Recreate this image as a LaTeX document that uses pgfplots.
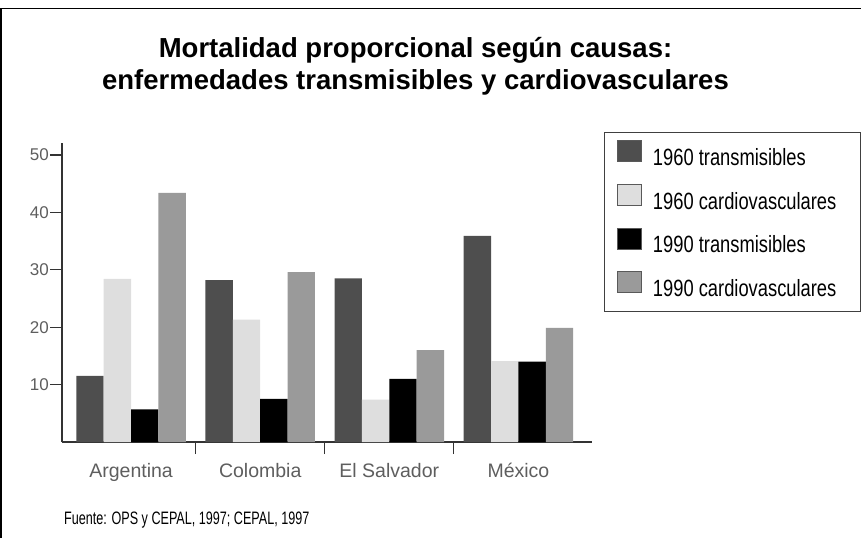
\documentclass[border=0pt]{standalone}
\usepackage{fontspec}
\setmainfont{Liberation Sans}
\newfontfamily\condfont[FakeStretch=0.78]{Liberation Sans}
\newfontfamily\footfont[FakeStretch=0.70]{Liberation Sans}
\usepackage{pgfplots}
\pgfplotsset{compat=1.18}
\definecolor{cA}{HTML}{4E4E4E}
\definecolor{cB}{HTML}{DEDEDE}
\definecolor{cC}{HTML}{000000}
\definecolor{cD}{HTML}{9A9A9A}
\definecolor{tickgray}{HTML}{5E5E5E}
\begin{document}
\begin{tikzpicture}[x=1pt,y=1pt]
\path[use as bounding box] (0,0) rectangle (861,538);
\draw[line width=1.5pt] (0.75,0) -- (0.75,529.25) -- (861,529.25);
\node[font=\bfseries\fontsize{27.5}{27.5}\selectfont, anchor=base] at (415.5,480) {Mortalidad proporcional según causas:};
\node[font=\bfseries\fontsize{27.5}{27.5}\selectfont, anchor=base] at (415.5,448) {enfermedades transmisibles y cardiovasculares};
\node[anchor=base west, font=\footfont\fontsize{18}{18}\selectfont, inner sep=0pt] at (64,14) {Fuente: OPS y CEPAL, 1997; CEPAL, 1997};
\begin{axis}[
  at={(62pt,96pt)}, anchor=south west,
  scale only axis, width=530pt, height=298.5pt,
  xmin=-0.535, xmax=3.57, ymin=0, ymax=52,
  axis lines*=left,
  axis line style={draw=black!80, line width=1.6pt},
  ybar, bar width=0.212,
  ytick={10,20,30,40,50},
  tick align=outside,
  major tick length=12pt,
  minor tick length=12pt,
  tick style={draw=black!80, line width=1.2pt},
  /pgf/number format/assume math mode=true,
  yticklabel style={font=\fontsize{17}{17}\selectfont, text=tickgray, inner sep=1pt},
  xtick={0,1,2,3},
  xticklabels={Argentina,Colombia,El Salvador,México},
  minor xtick={0.5,1.5,2.5},
  major x tick style={draw=none},
  xticklabel style={font=\fontsize{19.5}{19.5}\selectfont, text=tickgray, yshift=-6pt},
  legend style={at={(1.0226,1.0385)}, anchor=north west, draw=black!75, line width=0.8pt,
    inner xsep=13pt, inner ysep=8pt, row sep=11.3pt,
    font=\condfont\fontsize{23.5}{23.5}\selectfont,
    nodes={inner sep=2pt, text height=17pt, text depth=5pt},
    /tikz/every odd column/.append style={column sep=9pt}},
  legend cell align=left,
  legend image code/.code={\draw[#1, draw=black!65, line width=0.6pt] (0pt,-2pt) rectangle (24pt,19pt);},
]
\addplot[fill=cA, draw=none, bar shift=-0.318] coordinates {(0,11.5) (1,28.2) (2,28.5) (3,35.9)};
\addplot[fill=cB, draw=none, bar shift=-0.106] coordinates {(0,28.4) (1,21.3) (2,7.4) (3,14.1)};
\addplot[fill=cC, draw=none, bar shift=0.106] coordinates {(0,5.7) (1,7.5) (2,11.0) (3,14.0)};
\addplot[fill=cD, draw=none, bar shift=0.318] coordinates {(0,43.4) (1,29.6) (2,16.0) (3,19.9)};
\legend{1960 transmisibles,1960 cardiovasculares\hspace*{9pt},1990 transmisibles,1990 cardiovasculares\hspace*{9pt}}
\end{axis}
\end{tikzpicture}
\end{document}
